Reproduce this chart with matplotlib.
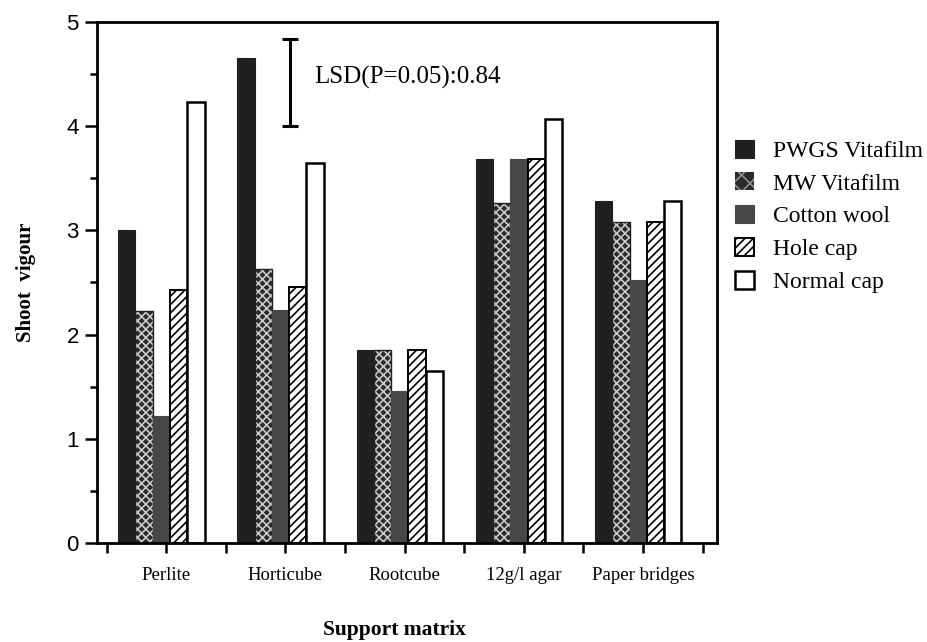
import numpy as np
import matplotlib.pyplot as plt

plt.rcParams['font.family'] = ['Liberation Serif', 'DejaVu Serif']
plt.rcParams['hatch.linewidth'] = 1.2

# Data
categories = ["Perlite", "Horticube", "Rootcube", "12g/l agar", "Paper bridges"]
series = ["PWGS Vitafilm", "MW Vitafilm", "Cotton wool", "Hole cap", "Normal cap"]
pwgs = [3.00, 4.65, 1.85, 3.68, 3.28]
mw = [2.23, 2.63, 1.85, 3.26, 3.08]
cotton = [1.22, 2.24, 1.46, 3.68, 2.52]
hole = [2.43, 2.46, 1.85, 3.68, 3.08]
normal = [4.23, 3.65, 1.65, 4.07, 3.28]
lsd = 0.84
lsd_bottom = 4.0

fig = plt.figure(figsize=(9.28, 6.42), dpi=100)
ax = fig.add_axes([0.1045, 0.154, 0.668, 0.812])

x = np.arange(len(categories))
w = 0.145
offsets = (np.arange(5) - 2) * w - 0.04

handles = []
# PWGS Vitafilm: solid near black
h = ax.bar(x + offsets[0], pwgs, w, color='#202020', edgecolor='#202020', linewidth=0.8)
handles.append(h)
# MW Vitafilm: dark with white crosshatch
ax.bar(x + offsets[1], mw, w, color='#2a2a2a', edgecolor='#c8c8c8', hatch='xxxx', linewidth=0)
ax.bar(x + offsets[1], mw, w, fill=False, edgecolor='#202020', linewidth=1.0)
handles.append(plt.Rectangle((0, 0), 1, 1, facecolor='#2a2a2a', edgecolor='#909090', hatch='xx', linewidth=0))
# Cotton wool: dark grey
h = ax.bar(x + offsets[2], cotton, w, color='#474747', edgecolor='#474747', linewidth=0.8)
handles.append(h)
# Hole cap: white with black diagonal hatch
h = ax.bar(x + offsets[3], hole, w, color='white', edgecolor='black', hatch='////', linewidth=1.4)
handles.append(h)
# Normal cap: white
h = ax.bar(x + offsets[4], normal, w, color='white', edgecolor='black', linewidth=1.8)
handles.append(h)

ax.set_xlim(-0.58, 4.62)
ax.set_ylim(0, 5)
ax.set_xticks(x)
ax.set_xticks(np.arange(-0.5, 5.0, 1.0), minor=True)
ax.set_xticklabels(categories, fontsize=13.5)
ax.set_yticks(range(6))
ax.set_yticks(np.arange(0.5, 5, 1.0), minor=True)
ax.set_yticklabels([str(i) for i in range(6)], fontsize=16, family='Liberation Sans')
ax.tick_params(axis='both', which='both', direction='out', width=1.8)
ax.tick_params(axis='x', which='major', length=7, pad=10)
ax.tick_params(axis='x', which='minor', length=7)
ax.tick_params(axis='y', which='major', length=9, pad=4)
ax.tick_params(axis='y', which='minor', length=5)
for s in ax.spines.values():
    s.set_linewidth(2)

ax.set_ylabel("Shoot  vigour", fontsize=15, fontweight='bold', labelpad=22)
ax.set_xlabel("Support matrix", fontsize=15.5, fontweight='bold')
ax.xaxis.set_label_coords(0.48, -0.148)

# LSD bar
xl = 1.04
ax.errorbar([xl], [lsd_bottom + lsd / 2], yerr=[lsd / 2], fmt='none', ecolor='black',
            elinewidth=2.2, capsize=6, capthick=2.2)
ax.text(xl + 0.2, lsd_bottom + lsd / 2 + 0.05, "LSD(P=0.05):%.2f" % lsd, fontsize=18,
        va='center', ha='left')

ax.legend(handles, series, loc='upper left', bbox_to_anchor=(0.995, 0.815), frameon=False,
          fontsize=17, handlelength=0.8, handleheight=0.8, handletextpad=0.8,
          labelspacing=0.45)

fig.savefig("out.png", dpi=100)
